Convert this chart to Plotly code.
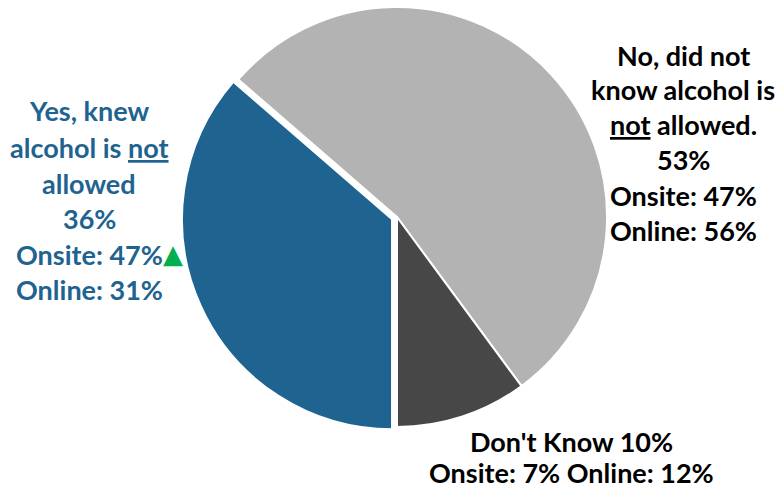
import plotly.graph_objects as go

# Survey answers: "Did you know alcohol is not allowed?"
categories = ["Yes, knew alcohol is not allowed", "No, did not know alcohol is not allowed.", "Don't Know"]
overall = [36, 53, 10]
onsite = [47, 47, 7]
online = [31, 56, 12]
colors = ["#1F6391", "#B3B3B3", "#474747"]

W, H = 781, 490
BLUE = "#1F6391"
BLACK = "#000000"
FONT = "Lato"
FS = 27

fig = go.Figure()
fig.add_trace(go.Pie(
    labels=categories,
    values=overall,
    sort=False,
    direction="clockwise",
    rotation=180,
    pull=[0.026, 0, 0],
    marker=dict(colors=colors, line=dict(color="white", width=2)),
    textinfo="none",
    hoverinfo="label+percent",
    showlegend=False,
    domain=dict(x=[181.5 / W, 612.5 / W], y=[(H - 432.5) / H, (H - 1.5) / H]),
))


def add_line(text, cx, y, color, yanchor="middle"):
    fig.add_annotation(
        text=text, x=cx / W, y=1 - y / H, xref="paper", yref="paper",
        xanchor="center", yanchor=yanchor, showarrow=False, borderpad=0,
        font=dict(family=FONT, size=FS, color=color, weight="bold"),
    )


def add_lines(lines, cx, ys, color):
    for text, y in zip(lines, ys):
        add_line(text, cx, y, color)


# Left label (Yes)
add_lines(
    ["Yes, knew", "alcohol is <u>not</u>", "allowed", f"{overall[0]}%",
     f"Onsite: {onsite[0]}%", f"Online: {online[0]}%"],
    89, [110, 147, 183, 218, 254, 289], BLUE,
)
# significance marker next to the onsite share
fig.add_annotation(
    text="▲", x=173 / W, y=1 - 254 / H, xref="paper", yref="paper",
    xanchor="center", yanchor="middle", showarrow=False, borderpad=0,
    font=dict(family="DejaVu Sans", size=26, color="#00B050"),
)

# Right label (No)
add_lines(
    ["No, did not", "know alcohol is", "<u>not</u> allowed.", f"{overall[1]}%",
     f"Onsite: {onsite[1]}%", f"Online: {online[1]}%"],
    683, [55, 90, 125, 160, 195, 230], BLACK,
)

# Bottom label (Don't Know); last line sits on the bottom edge
add_line(f"Don't Know {overall[2]}%", 571, 441, BLACK)
add_line(f"Onsite: {onsite[2]}% Online: {online[2]}%", 571, H, BLACK, yanchor="bottom")

fig.update_layout(
    width=W, height=H,
    margin=dict(l=0, r=0, t=0, b=0),
    paper_bgcolor="white",
    plot_bgcolor="white",
)

fig.write_html("out.html")
